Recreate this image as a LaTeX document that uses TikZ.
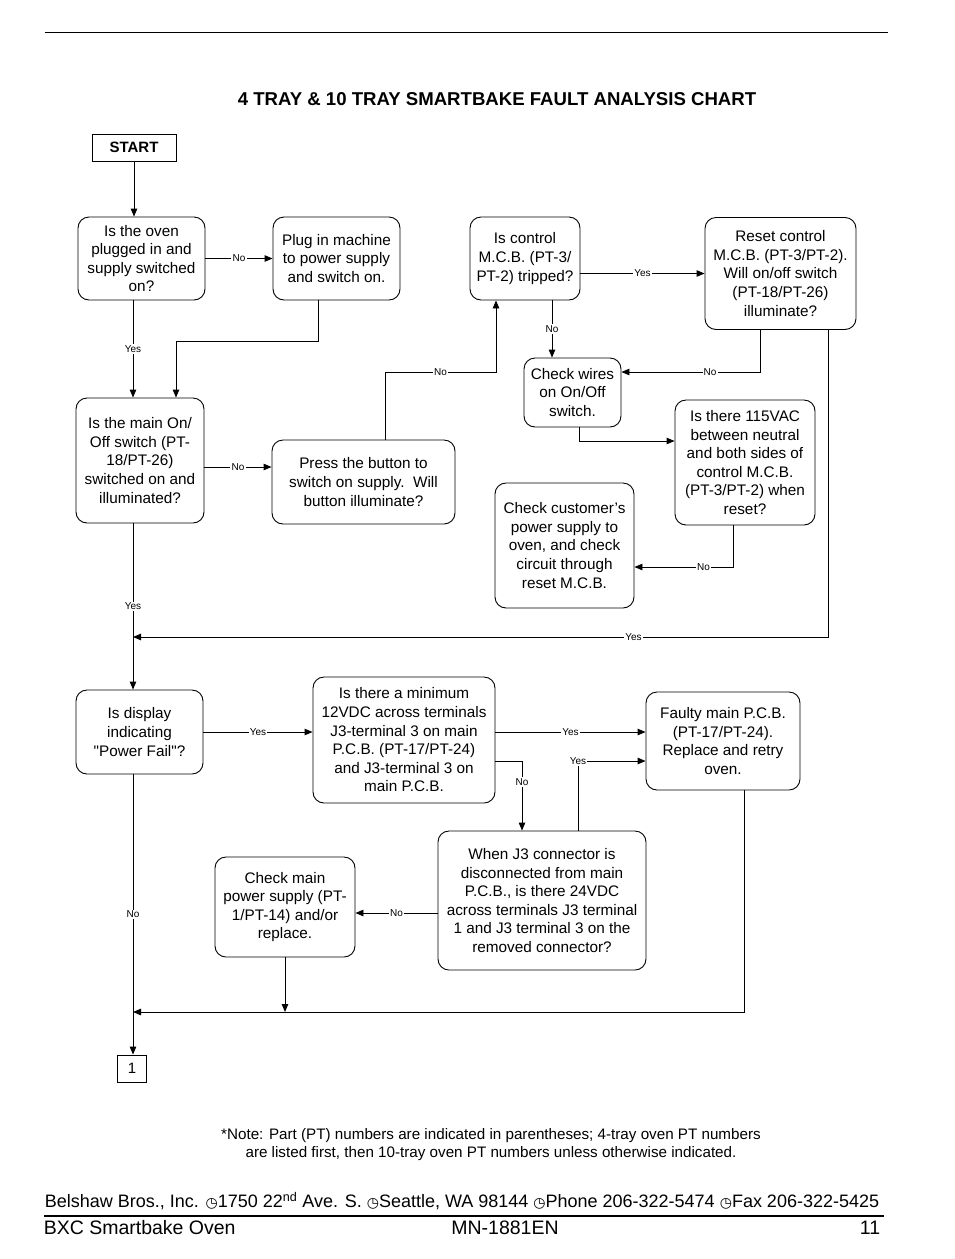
\documentclass[tikz,border=0pt]{standalone}
\usepackage{fontspec}
\setmainfont{Liberation Sans}
\newfontfamily\symfont{DejaVu Sans}
\usetikzlibrary{arrows.meta,positioning,calc}

\begin{document}
\begin{tikzpicture}[x=1pt,y=-1pt,line width=0.9pt,
  main/.style = {draw, rounded corners=11pt, align=center, inner sep=0pt,
                 font=\fontsize{15.3}{18.6}\selectfont},
  term/.style = {draw, align=center, inner sep=0pt},
  lbl/.style = {fill=white, inner sep=1.2pt, font=\fontsize{10}{12}\selectfont},
  arr/.style = {-{Triangle[length=8pt,width=6.5pt]}}]

\useasboundingbox (0,0) rectangle (954,1259);

\draw (45,32) -- (888,32);
\node[font=\bfseries\fontsize{18.6}{22}\selectfont] (title) at (497,99)
  {4 TRAY \& 10 TRAY SMARTBAKE FAULT ANALYSIS CHART};

% top block
\node[term, minimum width=84pt, minimum height=27pt, font=\bfseries\fontsize{15}{17}\selectfont] (start) at (134,147.5) {START};
\node[main, minimum width=127pt, minimum height=83pt] (oven) at (141.5,258.5)
  {Is the oven\\plugged in and\\supply switched\\on?};
\node[main, minimum width=127pt, minimum height=83pt] (plug) at (336.5,258.5)
  {Plug in machine\\to power supply\\and switch on.};
\node[main, minimum width=110pt, minimum height=83pt] (mcb) at (525,258.5)
  {Is control\\M.C.B. (PT-3/\\PT-2) tripped?};
\node[main, minimum width=151pt, minimum height=112pt] (reset) at (780.5,273.5)
  {Reset control\\M.C.B. (PT-3/PT-2).\\Will on/off switch\\(PT-18/PT-26)\\illuminate?};
\node[main, minimum width=97pt, minimum height=69pt] (wires) at (572.5,392.5)
  {Check wires\\on On/Off\\switch.};
\node[main, minimum width=128pt, minimum height=125pt] (mainsw) at (140,460.5)
  {Is the main On/\\Off switch (PT-\\18/PT-26)\\switched on and\\illuminated?};
\node[main, minimum width=183pt, minimum height=84pt] (press) at (363.5,482)
  {Press the button to\\switch on supply.~~Will\\button illuminate?};
\node[main, minimum width=140pt, minimum height=125pt] (vac) at (745,462.5)
  {Is there 115VAC\\between neutral\\and both sides of\\control M.C.B.\\(PT-3/PT-2) when\\reset?};
\node[main, minimum width=139pt, minimum height=125pt] (cust) at (564.5,545.5)
  {Check customer's\\power supply to\\oven, and check\\circuit through\\reset M.C.B.};

% lower block
\node[main, minimum width=127pt, minimum height=84pt] (display) at (139.5,732)
  {Is display\\indicating\\\textquotedbl Power Fail\textquotedbl ?};
\node[main, minimum width=182pt, minimum height=126pt] (min12) at (404,740)
  {Is there a minimum\\12VDC across terminals\\J3-terminal 3 on main\\P.C.B. (PT-17/PT-24)\\and J3-terminal 3 on\\main P.C.B.};
\node[main, minimum width=154pt, minimum height=98pt] (faulty) at (723,741)
  {Faulty main P.C.B.\\(PT-17/PT-24).\\Replace and retry\\oven.};
\node[main, minimum width=208pt, minimum height=139pt] (j3) at (542,900.5)
  {When J3 connector is\\disconnected from main\\P.C.B., is there 24VDC\\across terminals J3 terminal\\1 and J3 terminal 3 on the\\removed connector?};
\node[main, minimum width=140pt, minimum height=100pt] (psu) at (285,907)
  {Check main\\power supply (PT-\\1/PT-14) and/or\\replace.};
\node[term, minimum width=29pt, minimum height=27pt, font=\fontsize{15}{17}\selectfont] (one) at (132,1068.5) {1};

\coordinate (merge1) at (133,637);
\coordinate (merge2) at (133,1012);

% connectors, top block
\draw[arr] (start) -- (start |- oven.north);
\path (oven) edge[arr] node[lbl] {No} (plug);
\draw[arr] (oven.south -| merge1) -- node[lbl] {Yes} (mainsw.north -| merge1);
\draw[arr] ($(plug.south)+(-18.5,0)$) |- ($(mainsw.north)+(36,-56)$) -- ($(mainsw.north)+(36,0)$);
\draw[arr] ($(press.north)+(21.5,0)$) |- node[lbl,pos=0.75] {No} ($(mcb.south)+(-29,72)$) -- ($(mcb.south)+(-29,0)$);
\draw[arr] ($(mcb.south)+(27,0)$) -- node[lbl] {No} ($(wires.north)+(-20.5,0)$);
\draw[arr] ($(mcb.east)+(0,15)$) -- node[lbl] {Yes} (reset.west);
\draw[arr] ($(reset.south)+(-20.5,0)$) |- node[lbl,pos=0.68] {No} ($(wires.east)+(0,-20.5)$);
\draw[arr] ($(wires.south)+(6.5,0)$) |- ($(vac.west)+(0,-21.5)$);
\draw[arr] ($(vac.south)+(-12,0)$) |- node[lbl,pos=0.65] {No} ($(cust.east)+(0,21.5)$);
\draw[arr] ($(reset.south)+(47.5,0)$) |- node[lbl,pos=0.64] {Yes} (merge1);
\draw[arr] ($(mainsw.east)+(0,6.5)$) -- node[lbl] {No} ($(press.west)+(0,-15)$);
\draw[arr] (mainsw.south -| merge1) -- node[lbl] {Yes} (display.north -| merge1);

% connectors, lower block
\draw[arr] (display.east) -- node[lbl] {Yes} (min12.west |- display.east);
\draw[arr] (min12.east |- display.east) -- node[lbl] {Yes} (faulty.west |- display.east);
\draw[arr] ($(min12.east)+(0,21)$) -| node[lbl,pos=0.65] {No} ($(j3.north)+(-20,0)$);
\draw[arr] ($(j3.north)+(36,0)$) |- node[lbl,pos=0.5] {Yes} ($(faulty.west)+(0,20)$);
\draw[arr] ($(j3.west)+(0,12.5)$) -- node[lbl] {No} ($(psu.east)+(0,6)$);
\draw[arr] (psu.south) -- (psu.south |- merge2);
\draw[arr] ($(faulty.south)+(21,0)$) |- (merge2);
\draw[arr] (display.south -| merge1) -- node[lbl] {No} (one.north -| merge1);

% notes and footer
\node[align=center, font=\fontsize{15.2}{18}\selectfont] (note) at (491,1145)
  {*Note: Part (PT) numbers are indicated in parentheses; 4-tray oven PT numbers\\are listed first, then 10-tray oven PT numbers unless otherwise indicated.};
\node[font=\fontsize{18}{20}\selectfont] (addr) at (462,1201)
  {Belshaw Bros., Inc. {\symfont\fontsize{14}{16}\selectfont ◷}1750 22\textsuperscript{nd} Ave. S. {\symfont\fontsize{14}{16}\selectfont ◷}Seattle, WA 98144 {\symfont\fontsize{14}{16}\selectfont ◷}Phone 206-322-5474 {\symfont\fontsize{14}{16}\selectfont ◷}Fax 206-322-5425};
\draw[line width=1.5pt] (44,1216) -- (884,1216);
\node[anchor=west, font=\fontsize{19.5}{21}\selectfont] (model) at (40,1228) {BXC Smartbake Oven};
\node[font=\fontsize{19.5}{21}\selectfont] (manual) at (505,1228) {MN-1881EN};
\node[anchor=east, font=\fontsize{19.5}{21}\selectfont] (page) at (884,1228) {11};
\end{tikzpicture}
\end{document}
